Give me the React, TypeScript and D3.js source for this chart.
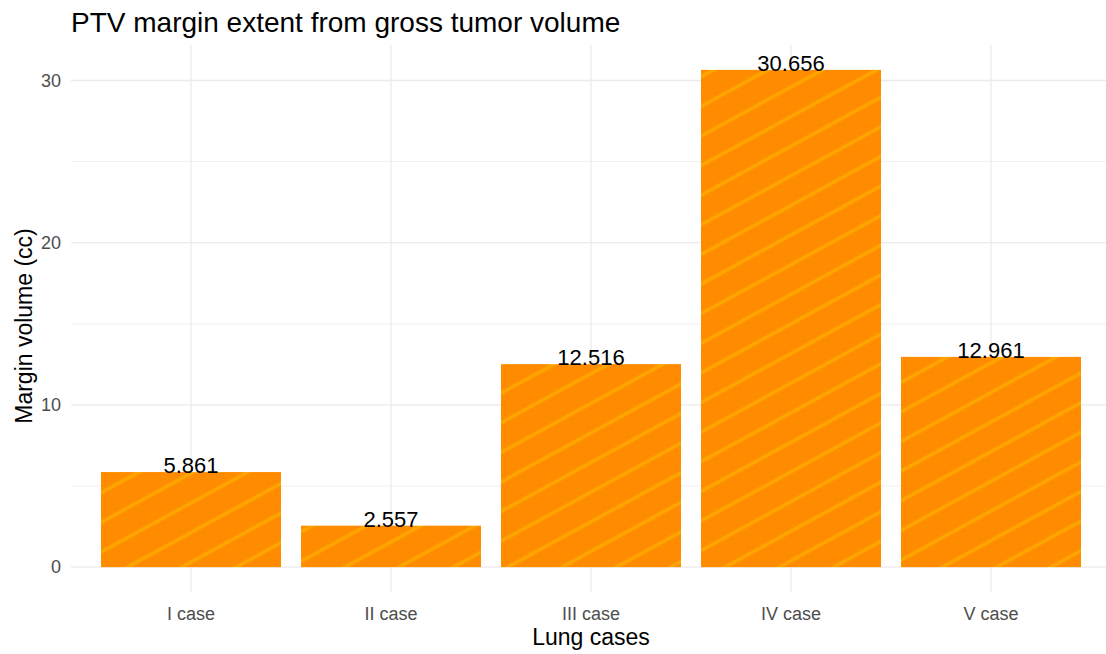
import React from "react";
import * as d3 from "d3";

const categories = ["I case", "II case", "III case", "IV case", "V case"];
const marginVolumes = [5.861, 2.557, 12.516, 30.656, 12.961];
const yTicks = [0, 10, 20, 30];
const yMinorTicks = [5, 15, 25];

const W = 1106;
const H = 654;
const panel = { left: 71, right: 1111, top: 45, bottom: 592 };

export default function App() {
  const maxV = d3.max(marginVolumes) as number;
  const pad = maxV * 0.05;
  const y = d3
    .scaleLinear()
    .domain([-pad, maxV + pad])
    .range([panel.bottom, panel.top]);

  // discrete axis with 0.6 unit expansion on each side, bars 0.9 wide
  const n = categories.length;
  const x = d3
    .scaleLinear()
    .domain([0.4, n + 0.6])
    .range([panel.left, panel.right]);
  const unit = x(2) - x(1);
  const barW = unit * 0.9;

  const font = "'Liberation Sans', Arial, sans-serif";

  return (
    <svg
      width={W}
      height={H}
      style={{ position: "absolute", left: 0, top: 0, background: "#fff" }}
      fontFamily={font}
    >
      <defs>
        <pattern
          id="stripes"
          patternUnits="userSpaceOnUse"
          width={26}
          height={26}
          patternTransform="rotate(-28.6)"
        >
          <rect width={26} height={26} fill="#FF8C00" />
          <line x1={0} y1={13} x2={26} y2={13} stroke="#FFA500" strokeWidth={3.5} />
        </pattern>
      </defs>

      {/* grid */}
      {yMinorTicks.map((t) => (
        <line
          key={"m" + t}
          x1={panel.left}
          x2={W}
          y1={y(t)}
          y2={y(t)}
          stroke="#EBEBEB"
          strokeWidth={0.8}
        />
      ))}
      {yTicks.map((t) => (
        <line
          key={"g" + t}
          x1={panel.left}
          x2={W}
          y1={y(t)}
          y2={y(t)}
          stroke="#EBEBEB"
          strokeWidth={1.3}
        />
      ))}
      {categories.map((c, i) => (
        <line
          key={"v" + c}
          x1={x(i + 1)}
          x2={x(i + 1)}
          y1={panel.top}
          y2={panel.bottom}
          stroke="#EBEBEB"
          strokeWidth={1.3}
        />
      ))}

      {/* bars */}
      {marginVolumes.map((v, i) => (
        <rect
          key={"b" + i}
          x={x(i + 1) - barW / 2}
          y={y(v)}
          width={barW}
          height={y(0) - y(v)}
          fill="url(#stripes)"
        />
      ))}

      {/* value labels */}
      {marginVolumes.map((v, i) => (
        <text
          key={"l" + i}
          x={x(i + 1)}
          y={y(v) + 1}
          textAnchor="middle"
          fontSize={22}
          fill="#000"
        >
          {v.toFixed(3)}
        </text>
      ))}

      {/* y tick labels */}
      {yTicks.map((t) => (
        <text
          key={"yt" + t}
          x={61}
          y={y(t)}
          dy="0.35em"
          textAnchor="end"
          fontSize={18}
          fill="#4D4D4D"
        >
          {t}
        </text>
      ))}

      {/* x tick labels */}
      {categories.map((c, i) => (
        <text
          key={"xt" + c}
          x={x(i + 1)}
          y={620}
          textAnchor="middle"
          fontSize={18}
          fill="#4D4D4D"
        >
          {c}
        </text>
      ))}

      {/* axis titles */}
      <text x={591} y={645} textAnchor="middle" fontSize={23} fill="#000">
        Lung cases
      </text>
      <text
        transform={`translate(32, 326) rotate(-90)`}
        textAnchor="middle"
        fontSize={23}
        fill="#000"
      >
        Margin volume (cc)
      </text>

      {/* title */}
      <text x={71} y={32} fontSize={28} fill="#000">
        PTV margin extent from gross tumor volume
      </text>
    </svg>
  );
}
